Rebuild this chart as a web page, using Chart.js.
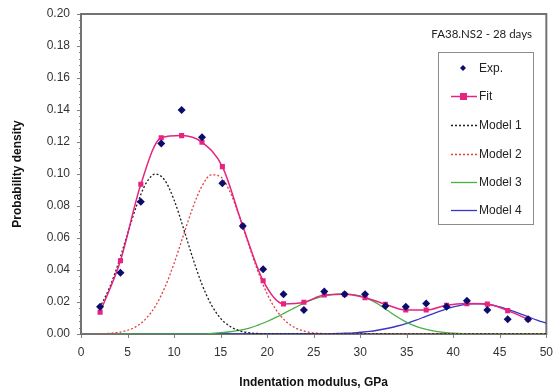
<!DOCTYPE html>
<html>
<head>
<meta charset="utf-8">
<script src="https://cdn.jsdelivr.net/npm/chart.js@4.4.1/dist/chart.umd.min.js"></script>
<style>
  html, body { margin: 0; padding: 0; background: #fff; }
</style>
</head>
<body>
<canvas id="chart" width="556" height="392"></canvas>
<script>
// measured points (indentation modulus, GPa)
const expX = [2.05, 4.24, 6.43, 8.62, 10.81, 13.0, 15.19, 17.38, 19.57, 21.76, 23.95,
  26.14, 28.33, 30.52, 32.71, 34.9, 37.09, 39.28, 41.47, 43.66, 45.85, 48.04];
const expY = [0.017, 0.0383, 0.0827, 0.119, 0.140, 0.123, 0.0942, 0.0675, 0.0404, 0.0248, 0.015,
  0.0265, 0.0248, 0.0248, 0.0175, 0.017, 0.019, 0.017, 0.0208, 0.015, 0.0092, 0.0092];
const fitY = [0.0136, 0.0458, 0.0936, 0.1227, 0.124, 0.1198, 0.1046, 0.0675, 0.0333, 0.0188, 0.0198,
  0.0244, 0.0248, 0.0227, 0.0186, 0.015, 0.015, 0.018, 0.019, 0.0187, 0.0146, 0.0092];

// model curves, read at every 1 GPa from 2 to 50
const modelX = [2, 3, 4, 5, 6, 7, 8, 9, 10, 11, 12, 13, 14, 15, 16, 17, 18, 19, 20, 21, 22, 23, 24, 25,
  26, 27, 28, 29, 30, 31, 32, 33, 34, 35, 36, 37, 38, 39, 40, 41, 42, 43, 44, 45, 46, 47, 48, 49, 50];
const model1 = [0.0163, 0.0281, 0.0440, 0.0626, 0.0806, 0.0943, 0.1000, 0.0961, 0.0838, 0.0663, 0.0476,
  0.0310, 0.0183, 0.0098, 0.0048, 0.0021, 0.0008, 0.0003, 0.0001, 0, 0, 0, 0, 0, 0, 0, 0, 0, 0, 0,
  0, 0, 0, 0, 0, 0, 0, 0, 0, 0, 0, 0, 0, 0, 0, 0, 0, 0, 0];
const model2 = [0.0001, 0.0004, 0.0010, 0.0023, 0.0049, 0.0097, 0.0175, 0.0290, 0.0441, 0.0616, 0.0788,
  0.0924, 0.0995, 0.0982, 0.0889, 0.0738, 0.0562, 0.0393, 0.0251, 0.0148, 0.0080, 0.0039, 0.0018,
  0.0007, 0.0003, 0.0001, 0, 0, 0, 0, 0, 0, 0, 0, 0, 0, 0, 0, 0, 0, 0, 0, 0, 0, 0, 0, 0, 0, 0];
const model3 = [0, 0, 0, 0, 0, 0, 0, 0, 0, 0, 0, 0, 0.0003, 0.0008, 0.0014, 0.0022, 0.0035, 0.0055,
  0.0078, 0.0105, 0.0135, 0.0165, 0.0195, 0.0218, 0.0235, 0.0246, 0.0250, 0.0248, 0.0238, 0.0216,
  0.0184, 0.0145, 0.0106, 0.0073, 0.0048, 0.0030, 0.0018, 0.0010, 0.0005, 0.0002, 0.0001,
  0, 0, 0, 0, 0, 0, 0, 0];
const model4 = [0, 0, 0, 0, 0, 0, 0, 0, 0, 0, 0, 0, 0, 0, 0, 0, 0, 0, 0, 0, 0, 0, 0, 0,
  0.0001, 0.0002, 0.0004, 0.0006, 0.0011, 0.0016, 0.0025, 0.0036, 0.0050, 0.0067, 0.0087, 0.0109,
  0.0131, 0.0151, 0.0169, 0.0182, 0.0189, 0.0189, 0.0182, 0.0169, 0.0151, 0.0131, 0.0109, 0.0087, 0.0067];

const xTicks = [0, 5, 10, 15, 20, 25, 30, 35, 40, 45, 50];
const yTicks = [0, 0.02, 0.04, 0.06, 0.08, 0.10, 0.12, 0.14, 0.16, 0.18, 0.20];
const seriesNames = ['Exp.', 'Fit', 'Model 1', 'Model 2', 'Model 3', 'Model 4'];
const panelTitle = 'FA38.NS2 - 28 days';

const pts = (xs, ys) => xs.map((x, i) => ({ x: x, y: ys[i] }));

const FONT = '"Liberation Sans", Arial, sans-serif';

const modelLine = (label, data, color, dash, order) => ({
  label, data, borderColor: color, backgroundColor: color, borderWidth: 1.3,
  borderDash: dash, showLine: true, pointRadius: 0, cubicInterpolationMode: 'monotone', order
});

// frame, tick marks, note and legend box
const extras = {
  id: 'extras',
  beforeDatasetsDraw(chart) {
    const { ctx, chartArea: a, scales: { x, y } } = chart;
    ctx.save();
    ctx.strokeStyle = '#808080';
    ctx.lineWidth = 1;
    for (let v = 0; v <= 0.2001; v += 0.004) {
      const py = Math.round(y.getPixelForValue(v)) + 0.5;
      const major = Math.abs(v / 0.02 - Math.round(v / 0.02)) < 0.01;
      ctx.beginPath();
      ctx.moveTo(a.left - (major ? 4 : 2), py);
      ctx.lineTo(a.left, py);
      ctx.stroke();
    }
    xTicks.forEach(v => {
      const px = Math.round(x.getPixelForValue(v)) + 0.5;
      ctx.beginPath();
      ctx.moveTo(px, a.bottom);
      ctx.lineTo(px, a.bottom + 4);
      ctx.stroke();
    });
    ctx.lineWidth = 2;
    ctx.strokeStyle = '#727272';
    ctx.strokeRect(a.left, a.top, a.right - a.left, a.bottom - a.top);
    ctx.restore();
  },
  afterDraw(chart) {
    const { ctx } = chart;
    ctx.save();
    ctx.fillStyle = '#222';
    ctx.font = '11.5px Lato, "Open Sans", sans-serif';
    ctx.textAlign = 'right';
    ctx.textBaseline = 'middle';
    ctx.fillText(panelTitle, 532, 34);

    const bx = 438, by = 52, bw = 95, bh = 172;
    ctx.fillStyle = '#fff';
    ctx.fillRect(bx, by, bw, bh);
    ctx.strokeStyle = '#8c8c8c';
    ctx.lineWidth = 1;
    ctx.strokeRect(bx + 0.5, by + 0.5, bw, bh);

    const rowY = [68, 96, 125, 154, 182, 210];
    chart.data.datasets.forEach((ds, i) => {
      const yy = rowY[i];
      ctx.save();
      if (ds.showLine) {
        ctx.strokeStyle = ds.borderColor;
        ctx.lineWidth = ds.borderWidth;
        ctx.setLineDash(ds.borderDash || []);
        ctx.beginPath();
        ctx.moveTo(451, yy + 0.5);
        ctx.lineTo(477, yy + 0.5);
        ctx.stroke();
      }
      ctx.setLineDash([]);
      if (ds.pointRadius > 0) {
        ctx.fillStyle = ds.pointBackgroundColor;
        ctx.beginPath();
        if (ds.pointStyle === 'rectRot') {
          ctx.moveTo(463, yy - 3); ctx.lineTo(466, yy); ctx.lineTo(463, yy + 3); ctx.lineTo(460, yy);
        } else {
          ctx.rect(460, yy - 3, 7, 7);
        }
        ctx.fill();
      }
      ctx.restore();
      ctx.fillStyle = '#222';
      ctx.font = '12px ' + FONT;
      ctx.textAlign = 'left';
      ctx.textBaseline = 'middle';
      ctx.fillText(ds.label, 479, yy + 1);
    });
    ctx.restore();
  }
};

new Chart(document.getElementById('chart'), {
  type: 'scatter',
  data: {
    datasets: [
      {
        label: seriesNames[0], data: pts(expX, expY), showLine: false,
        pointStyle: 'rectRot', pointRadius: 4, pointBackgroundColor: '#0c0c6e',
        pointBorderColor: '#0c0c6e', pointBorderWidth: 0, order: 0
      },
      {
        label: seriesNames[1], data: pts(expX, fitY), showLine: true,
        borderColor: '#e6247f', borderWidth: 1.5, cubicInterpolationMode: 'monotone',
        pointStyle: 'rect', pointRadius: 3.6, pointBackgroundColor: '#e6247f',
        pointBorderColor: '#e6247f', pointBorderWidth: 0, order: 1
      },
      modelLine(seriesNames[2], pts(modelX, model1), '#202020', [2, 2], 2),
      modelLine(seriesNames[3], pts(modelX, model2), '#e0403f', [2, 2], 3),
      modelLine(seriesNames[4], pts(modelX, model3), '#46b040', [], 4),
      modelLine(seriesNames[5], pts(modelX, model4), '#3636c8', [], 5)
    ]
  },
  options: {
    responsive: false,
    animation: false,
    devicePixelRatio: 1,
    layout: { padding: { top: 14, right: 8, bottom: 0, left: 0 } },
    plugins: { legend: { display: false }, tooltip: { enabled: false } },
    scales: {
      x: {
        type: 'linear', min: 0, max: 50,
        afterBuildTicks: s => { s.ticks = xTicks.map(v => ({ value: v })); },
        afterFit: s => { s.height = 58; },
        grid: { display: false },
        border: { display: false },
        ticks: { padding: 3, color: '#333', font: { family: FONT, size: 12 } },
        title: {
          display: true, text: 'Indentation modulus, GPa', color: '#111',
          font: { family: FONT, size: 12, weight: 'bold' }, padding: { top: 0, bottom: 2 }
        }
      },
      y: {
        type: 'linear', min: 0, max: 0.2,
        afterBuildTicks: s => { s.ticks = yTicks.map(v => ({ value: v })); },
        afterFit: s => { s.width = 81; },
        grid: { display: false },
        border: { display: false },
        ticks: {
          padding: 3, color: '#333', font: { family: FONT, size: 12 },
          callback: v => v.toFixed(2)
        },
        title: {
          display: true, text: 'Probability density', color: '#111',
          font: { family: FONT, size: 12, weight: 'bold' }, padding: { top: 10, bottom: 0 }
        }
      }
    }
  },
  plugins: [extras]
});
</script>
</body>
</html>
